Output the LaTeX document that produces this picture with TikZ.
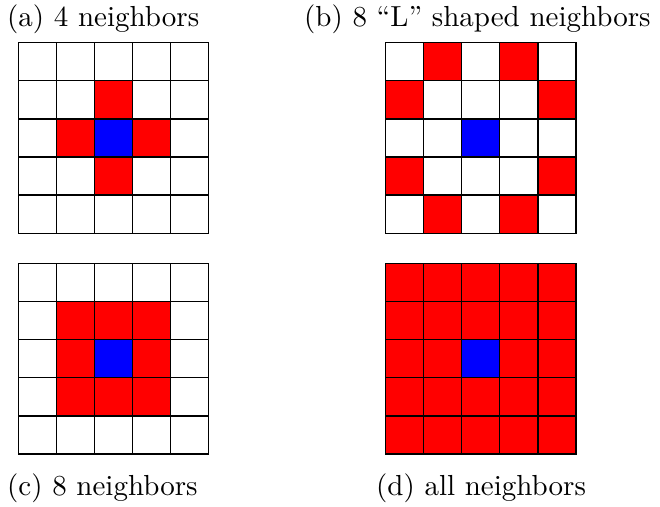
\documentclass[tikz,border=0pt]{standalone}
\usepackage{graphicx}
\begin{document}
\begin{tikzpicture}[x=1pt,y=-1pt,
  gridline/.style={line width=1.3pt, line cap=rect},
  redcell/.style={fill=red},
  bluecell/.style={fill=blue},
  lbl/.style={anchor=base west, inner sep=0pt}]
\useasboundingbox (0,0) rectangle (660,506);
\def\cs{38.1}
\newcommand\biglbl[1]{\scalebox{2.9}{\fontsize{10}{12}\selectfont #1}}
% (a)
\begin{scope}[shift={(18.3,42.7)}]
  \foreach \c/\r in {2/1,1/2,3/2,2/3} \fill[redcell] (\c*\cs,\r*\cs) rectangle ++(\cs,\cs);
  \fill[bluecell] (2*\cs,2*\cs) rectangle ++(\cs,\cs);
  \foreach \i in {0,...,5} {
    \draw[gridline] (\i*\cs,0) -- (\i*\cs,5*\cs);
    \draw[gridline] (0,\i*\cs) -- (5*\cs,\i*\cs);
  }
\end{scope}
% (b)
\begin{scope}[shift={(385.5,42.7)}]
  \foreach \c/\r in {1/0,3/0,0/1,4/1,0/3,4/3,1/4,3/4} \fill[redcell] (\c*\cs,\r*\cs) rectangle ++(\cs,\cs);
  \fill[bluecell] (2*\cs,2*\cs) rectangle ++(\cs,\cs);
  \foreach \i in {0,...,5} {
    \draw[gridline] (\i*\cs,0) -- (\i*\cs,5*\cs);
    \draw[gridline] (0,\i*\cs) -- (5*\cs,\i*\cs);
  }
\end{scope}
% (c)
\begin{scope}[shift={(18.3,263.5)}]
  \fill[redcell] (\cs,\cs) rectangle (4*\cs,4*\cs);
  \fill[bluecell] (2*\cs,2*\cs) rectangle ++(\cs,\cs);
  \foreach \i in {0,...,5} {
    \draw[gridline] (\i*\cs,0) -- (\i*\cs,5*\cs);
    \draw[gridline] (0,\i*\cs) -- (5*\cs,\i*\cs);
  }
\end{scope}
% (d)
\begin{scope}[shift={(385.5,263.5)}]
  \fill[redcell] (0,0) rectangle (5*\cs,5*\cs);
  \fill[bluecell] (2*\cs,2*\cs) rectangle ++(\cs,\cs);
  \foreach \i in {0,...,5} {
    \draw[gridline] (\i*\cs,0) -- (\i*\cs,5*\cs);
    \draw[gridline] (0,\i*\cs) -- (5*\cs,\i*\cs);
  }
\end{scope}
\node[lbl] (la) at (7,26) {\biglbl{(a) 4 neighbors}};
\node[lbl] (lb) at (304,26) {\biglbl{(b) 8 ``L'' shaped neighbors}};
\node[lbl] (lc) at (7,495) {\biglbl{(c) 8 neighbors}};
\node[lbl] (ld) at (376,495) {\biglbl{(d) all neighbors}};
\end{tikzpicture}
\end{document}
